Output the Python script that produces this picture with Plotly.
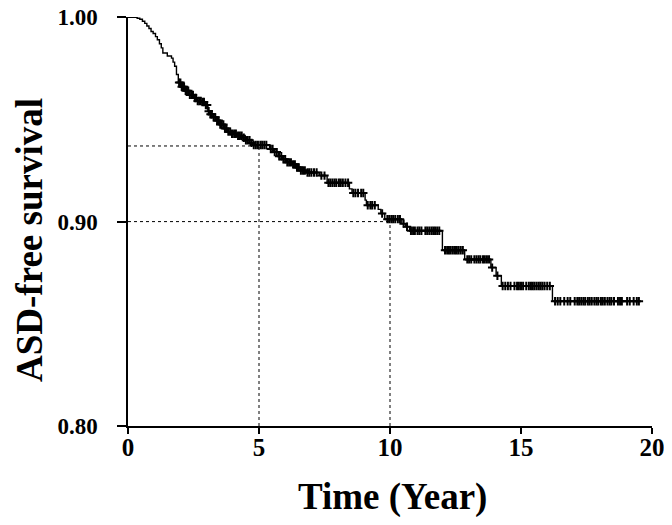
import numpy as np
import plotly.graph_objects as go

# Kaplan-Meier step data (event times in years, survival after each event)
event_times = [0, 0.35, 0.45, 0.55, 0.64, 0.72, 0.80, 0.88, 0.96, 1.05, 1.12, 1.20, 1.27,
               1.33, 1.50, 1.66, 1.72, 1.78, 1.85, 1.92, 2.05, 2.20, 2.35, 2.50, 2.65, 2.80,
               2.95, 3.05, 3.12, 3.25, 3.35, 3.50, 3.65, 3.80, 3.95, 4.15, 4.35, 4.50, 4.65,
               4.80, 5.40, 5.55, 5.75, 5.90, 6.05, 6.25, 6.40, 6.60, 6.80, 7.30, 7.60, 8.45,
               8.55, 9.05, 9.10, 9.55, 9.65, 9.80, 10.45, 10.60, 10.75, 12.00, 12.85, 13.85,
               14.05, 14.25, 16.20]
survival = [1.000, 0.9995, 0.999, 0.998, 0.997, 0.9957, 0.9945, 0.993, 0.992, 0.9905, 0.989,
            0.987, 0.985, 0.9825, 0.981, 0.980, 0.978, 0.976, 0.972, 0.968, 0.966, 0.964,
            0.962, 0.9605, 0.959, 0.9585, 0.957, 0.954, 0.9525, 0.951, 0.9495, 0.9475,
            0.9455, 0.944, 0.943, 0.942, 0.941, 0.9398, 0.9385, 0.9375, 0.9355, 0.934,
            0.932, 0.9305, 0.929, 0.928, 0.9265, 0.925, 0.924, 0.9225, 0.919, 0.916, 0.914,
            0.9105, 0.908, 0.906, 0.904, 0.9012, 0.899, 0.8975, 0.8955, 0.886, 0.8815,
            0.8775, 0.8735, 0.8685, 0.861]
end_time = 19.5

# Censoring times (years)
censor_times = [1.95, 2.0, 2.05, 2.1, 2.14, 2.2, 2.25, 2.3, 2.36, 2.42, 2.48, 2.55, 2.6, 2.66,
                2.72, 2.78, 2.84, 2.9, 2.97, 3.02, 3.08, 3.15, 3.2, 3.27, 3.33, 3.4, 3.46,
                3.52, 3.58, 3.64, 3.7, 3.76, 3.83, 3.9, 3.97, 4.05, 4.12, 4.2, 4.27, 4.34,
                4.42, 4.5, 4.57, 4.64, 4.72, 4.8, 4.88, 4.96, 5.05, 5.12, 5.2, 5.28, 5.45,
                5.52, 5.6, 5.68, 5.77, 5.85, 5.93, 6.0, 6.08, 6.15, 6.22, 6.3, 6.37, 6.45,
                6.52, 6.6, 6.68, 6.75, 6.85, 6.92, 7.0, 7.1, 7.2, 7.38, 7.5, 7.65, 7.72, 7.8,
                7.88, 7.95, 8.05, 8.12, 8.2, 8.3, 8.4, 8.6, 8.68, 8.78, 8.9, 8.98, 9.15, 9.25,
                9.32, 9.42, 9.7, 9.9, 9.97, 10.05, 10.12, 10.2, 10.3, 10.38, 10.52, 10.65,
                10.8, 10.88, 10.95, 11.05, 11.12, 11.2, 11.35, 11.42, 11.5, 11.58, 11.65,
                11.72, 11.8, 11.88, 12.1, 12.18, 12.25, 12.32, 12.4, 12.48, 12.55, 12.62,
                12.7, 12.78, 12.95, 13.02, 13.1, 13.22, 13.3, 13.38, 13.45, 13.55, 13.62,
                13.7, 13.78, 13.9, 14.1, 14.3, 14.4, 14.5, 14.6, 14.75, 14.85, 14.92, 15.0,
                15.08, 15.2, 15.3, 15.38, 15.45, 15.52, 15.6, 15.68, 15.75, 15.82, 15.9,
                16.0, 16.1, 16.3, 16.4, 16.5, 16.65, 16.78, 16.88, 17.05, 17.15, 17.22,
                17.3, 17.38, 17.45, 17.55, 17.62, 17.7, 17.8, 17.88, 17.95, 18.05, 18.12,
                18.2, 18.3, 18.38, 18.45, 18.55, 18.7, 18.78, 18.85, 19.05, 19.15, 19.3,
                19.42, 19.5]

# Reference lines: survival at 5 and 10 years
ref_years = [5, 10]
ref_surv = [0.937, 0.900]

x_ticks = [0, 5, 10, 15, 20]
y_ticks = [0.80, 0.90, 1.00]
y_tick_labels = ["0.80", "0.90", "1.00"]

FONT = "Liberation Serif"

step_x = list(event_times) + [end_time]
step_y = list(survival) + [survival[-1]]

idx = np.searchsorted(np.array(event_times), np.array(censor_times), side="right") - 1
censor_y = [survival[i] for i in idx]

fig = go.Figure()

for t, s in zip(ref_years, ref_surv):
    fig.add_shape(type="line", xref="x", yref="y", x0=0, x1=t, y0=s, y1=s,
                  line=dict(color="black", width=1, dash="dot"))
    fig.add_shape(type="line", xref="x", yref="y", x0=t, x1=t, y0=0.80, y1=s,
                  line=dict(color="black", width=1, dash="dot"))

fig.add_trace(go.Scatter(x=step_x, y=step_y, mode="lines",
                         line=dict(color="black", width=1.4, shape="hv"),
                         hoverinfo="skip", showlegend=False, cliponaxis=False))
fig.add_trace(go.Scatter(x=censor_times, y=censor_y, mode="markers",
                         marker=dict(symbol="cross-thin", size=6,
                                     line=dict(color="black", width=2)),
                         hoverinfo="skip", showlegend=False))

# page has an 8px body margin; figure is sized to fit inside the 672x525 window
W, H = 656, 509
L, R, T, B = 120, 12, 9, 91
PW, PH = W - L - R, H - T - B

fig.update_layout(
    width=W, height=H,
    margin=dict(l=L, r=R, t=T, b=B, autoexpand=False),
    paper_bgcolor="white", plot_bgcolor="white",
    font=dict(family=FONT, color="black"),
    xaxis=dict(range=[0, 20], tickvals=x_ticks, ticks="outside", ticklen=6,
               tickwidth=1.5, tickcolor="black", showline=True, linecolor="black",
               linewidth=1.5, showgrid=False, zeroline=False, automargin=False,
               tickfont=dict(family=FONT, size=25, color="black", weight="bold"),
               ticklabelstandoff=-8, ticklabeloverflow="allow"),
    yaxis=dict(range=[0.80, 1.0001], tickvals=y_ticks, ticktext=y_tick_labels,
               ticks="outside", ticklen=9, tickwidth=1.5, tickcolor="black",
               showline=True, linecolor="black", linewidth=1.5, showgrid=False,
               zeroline=False, automargin=False,
               tickfont=dict(family=FONT, size=23, color="black", weight="bold"),
               ticklabelstandoff=15, ticklabeloverflow="allow"),
    annotations=[
        dict(text="<b>Time (Year)</b>", xref="paper", yref="paper",
             x=(384 - L) / PW, y=-(489 - (T + PH)) / PH, showarrow=False,
             font=dict(family=FONT, size=37, color="black"),
             xanchor="center", yanchor="middle"),
        dict(text="<b>ASD-free survival</b>", xref="paper", yref="paper",
             x=-(L - 21) / PW, y=(T + PH - 232) / PH, showarrow=False, textangle=-90,
             font=dict(family=FONT, size=37, color="black"),
             xanchor="center", yanchor="middle"),
    ],
)

fig.write_html("out.html")
